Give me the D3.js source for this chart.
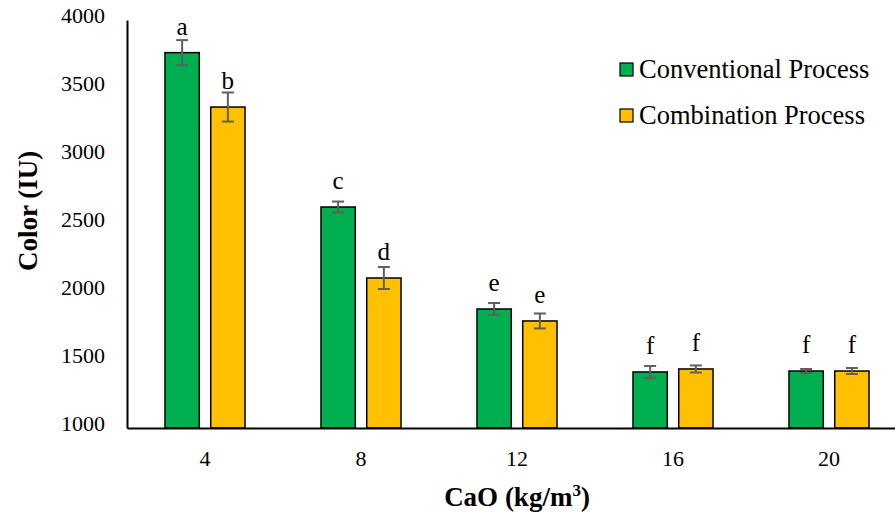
<!DOCTYPE html>
<html>
<head>
<meta charset="utf-8">
<script src="https://cdn.jsdelivr.net/npm/d3@7"></script>
<style>
  body { margin: 0; background: #fff; }
  text { font-family: "Liberation Serif", "Times New Roman", serif; fill: #000; }
</style>
</head>
<body>
<script>
// chart data
var categories = ['4', '8', '12', '16', '20'];
var seriesNames = ['Conventional Process', 'Combination Process'];
var conventional = [3760, 2625, 1875, 1412, 1419];
var combination = [3360, 2103, 1787, 1434, 1419];
var conventionalErr = [92, 40, 44, 44, 15];
var combinationErr = [107, 81, 55, 26, 22];
var conventionalLetters = ['a', 'c', 'e', 'f', 'f'];
var combinationLetters = ['b', 'd', 'e', 'f', 'f'];
var yTicks = [1000, 1500, 2000, 2500, 3000, 3500, 4000];

var colors = ['#00B050', '#FFC000'];

var width = 895;
var height = 512;

// plot box (note: "top" is taken by window.top)
var plotLeft = 127, plotRight = 907, plotTop = 20, plotBottom = 428;

var svg = d3.select('body')
            .append('svg')
            .attr('width', width)
            .attr('height', height);

var x = d3.scaleBand()
          .domain(categories)
          .range([plotLeft, plotRight])
          .paddingInner(0.487)
          .paddingOuter(0.2435);

var inner = d3.scaleBand()
              .domain(d3.range(2))
              .range([0, x.bandwidth()])
              .paddingInner(0.25);

var y = d3.scaleLinear()
          .domain([1000, 4000])
          .range([plotBottom, plotTop]);

// build rows for bars
var rows = [];
categories.forEach(function(c, i) {
  rows.push({cat: c, s: 0, v: conventional[i], e: conventionalErr[i], l: conventionalLetters[i]});
  rows.push({cat: c, s: 1, v: combination[i], e: combinationErr[i], l: combinationLetters[i]});
});

// bars
svg.selectAll('rect.bar')
   .data(rows)
   .enter()
   .append('rect')
   .attr('class', 'bar')
   .attr('x', function(d) { return x(d.cat) + inner(d.s); })
   .attr('y', function(d) { return y(d.v); })
   .attr('width', inner.bandwidth())
   .attr('height', function(d) { return y(1000) - y(d.v); })
   .attr('fill', function(d) { return colors[d.s]; })
   .attr('stroke', '#000')
   .attr('stroke-width', 1.5);

// error bars
var errG = svg.append('g')
              .attr('stroke', '#5f5f5f')
              .attr('stroke-width', 2);

rows.forEach(function(d) {
  var cx = x(d.cat) + inner(d.s) + inner.bandwidth() / 2;
  var y1 = y(d.v + d.e), y2 = y(d.v - d.e);
  errG.append('line').attr('x1', cx).attr('x2', cx).attr('y1', y1).attr('y2', y2);
  errG.append('line').attr('x1', cx - 6).attr('x2', cx + 6).attr('y1', y1).attr('y2', y1);
  errG.append('line').attr('x1', cx - 6).attr('x2', cx + 6).attr('y1', y2).attr('y2', y2);
});

// significance letters
svg.selectAll('text.letter')
   .data(rows)
   .enter()
   .append('text')
   .attr('class', 'letter')
   .attr('x', function(d) { return x(d.cat) + inner(d.s) + inner.bandwidth() / 2; })
   .attr('y', function(d) { return y(d.v) - 18; })
   .attr('text-anchor', 'middle')
   .style('font-size', '25px')
   .text(function(d) { return d.l; });

// y axis
var yAxis = svg.append('g')
               .attr('transform', 'translate(' + plotLeft + ',0)')
               .call(d3.axisLeft(y).tickValues(yTicks).tickFormat(d3.format('d')).tickSize(0).tickPadding(22));
yAxis.select('.domain').attr('stroke', '#000').attr('stroke-width', 2);
yAxis.selectAll('text')
     .style('font-size', '22px')
     .attr('font-family', null)
     .attr('dy', '0.1em');

// x axis
var xAxis = svg.append('g')
               .attr('transform', 'translate(0,' + plotBottom + ')')
               .call(d3.axisBottom(x).tickSize(0).tickPadding(22));
xAxis.select('.domain').attr('stroke', '#000').attr('stroke-width', 2);
xAxis.selectAll('text')
     .style('font-size', '22px')
     .attr('font-family', null);

// axis titles
svg.append('text')
   .attr('transform', 'translate(37,211) rotate(-90)')
   .attr('text-anchor', 'middle')
   .style('font-size', '27px')
   .style('font-weight', 'bold')
   .text('Color (IU)');

var xt = svg.append('text')
            .attr('x', 517)
            .attr('y', 506)
            .attr('text-anchor', 'middle')
            .style('font-size', '27px')
            .style('font-weight', 'bold');
xt.append('tspan').text('CaO (kg/m');
xt.append('tspan').text('3').style('font-size', '17px').attr('dy', -10);
xt.append('tspan').text(')').attr('dy', 10);

// legend
var legend = svg.selectAll('g.legend')
                .data(seriesNames)
                .enter()
                .append('g')
                .attr('class', 'legend')
                .attr('transform', function(d, i) { return 'translate(620,' + (63 + i * 46) + ')'; });

legend.append('rect')
      .attr('width', 13)
      .attr('height', 13)
      .attr('fill', function(d, i) { return colors[i]; })
      .attr('stroke', '#000')
      .attr('stroke-width', 1.2);

legend.append('text')
      .attr('x', 19)
      .attr('y', 15)
      .style('font-size', '26.5px')
      .text(function(d) { return d; });
</script>
</body>
</html>
